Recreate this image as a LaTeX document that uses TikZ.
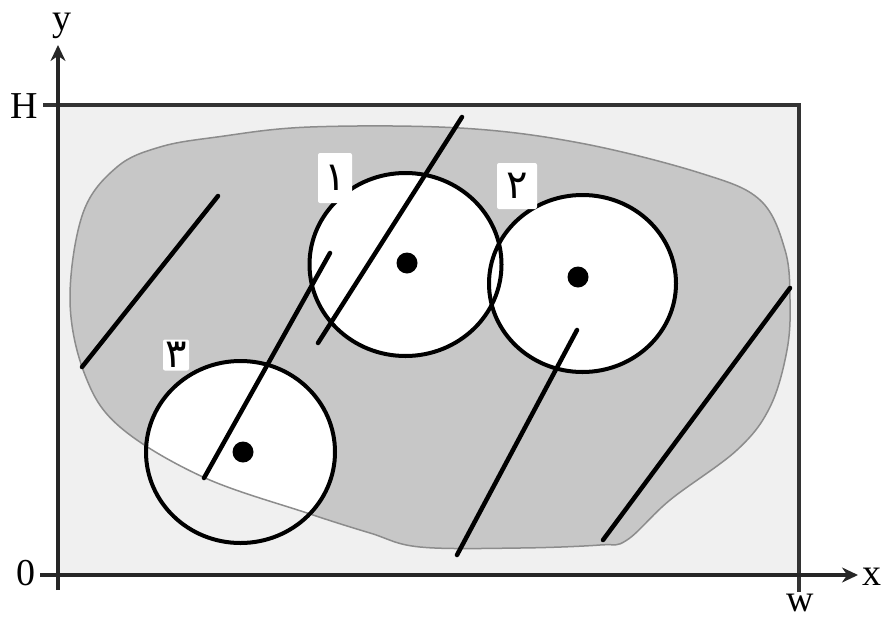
\documentclass[tikz,border=0pt]{standalone}
\usepackage{fontspec}
\setmainfont{Liberation Serif}
\newfontfamily\arabicfont[Script=Arabic]{DejaVu Sans}
\usetikzlibrary{arrows.meta}
\begin{document}
\begin{tikzpicture}[x=1pt,y=-1pt,
  axis/.style={line width=3.5pt,draw=black!85},
  frame/.style={line width=3.5pt,draw=black!80},
  ring/.style={line width=4pt,draw=black},
  stroke/.style={line width=4.5pt,draw=black,line cap=round},
  dot/.style={circle,fill=black,inner sep=0pt,minimum size=21pt},
  lbl/.style={font=\fontsize{38}{40}\selectfont,inner sep=0pt,anchor=base},
  num/.style={font=\arabicfont\fontsize{40}{42}\selectfont,fill=white,inner sep=0pt,rounded corners=2pt}]
\useasboundingbox (0,0) rectangle (888,621);
% background inside frame
\fill[black!6] (58,105) rectangle (799,575);
% blob
\def\blobpath{plot[smooth cycle,tension=0.6] coordinates {(70,300) (83,213) (117,167) (160,147) (217,137) (310,127) (460,128) (580,143) (700,173) (760,200) (785,250) (790,300) (787,350) (770,407) (737,450) (670,500) (627,540) (600,545) (520,548) (420,547) (370,533) (307,513) (203,477) (120,427) (85,375)}}
\fill[black!22] \blobpath;
% circle interiors
\fill[white] (405.5,264.5) ellipse [x radius=96pt, y radius=91.5pt];
\fill[white] (582.5,283.5) ellipse [x radius=93.5pt, y radius=88.5pt];
\begin{scope}
  \clip \blobpath;
  \fill[white] (240.5,452) ellipse [x radius=94.5pt, y radius=91pt];
\end{scope}
\draw[draw=black!45,line width=1.5pt] \blobpath;
% lines
\coordinate (a1) at (82,367); \coordinate (a2) at (218,196);
\coordinate (b1) at (318,343); \coordinate (b2) at (462,117);
\coordinate (c1) at (204,478); \coordinate (c2) at (330,253);
\coordinate (d1) at (457,555); \coordinate (d2) at (577,330);
\coordinate (e1) at (603,540); \coordinate (e2) at (790,288);
\draw[stroke] (a1) -- (a2);
\draw[stroke] (b1) -- (b2);
\draw[stroke] (c1) -- (c2);
\draw[stroke] (d1) -- (d2);
\draw[stroke] (e1) -- (e2);
% circles
\draw[ring] (405.5,264.5) ellipse [x radius=96pt, y radius=91.5pt];
\draw[ring] (582.5,283.5) ellipse [x radius=93.5pt, y radius=88.5pt];
\draw[ring] (240.5,452) ellipse [x radius=94.5pt, y radius=91pt];
\node[dot] (p1) at (407,263) {};
\node[dot] (p2) at (578,277) {};
\node[dot] (p3) at (243,452) {};
% number labels
\node[num,minimum width=34pt,minimum height=50pt] (n1) at (335,178) {\char"0661};
\node[num,minimum width=40pt,minimum height=46pt] (n2) at (517,186) {\char"0662};
\node[num,minimum width=26pt,minimum height=31pt] (n3) at (176,355) {\char"0663};
% frame and axes
\draw[frame] (43,105) -- (799,105) -- (799,592);
\draw[axis,-{Stealth[length=16pt,width=15pt]}] (58,590) -- (58,45);
\draw[axis,-{Stealth[length=16pt,width=15pt]}] (40,575) -- (858,575);
% axis labels
\node[lbl] (ly) at (62,30) {y};
\node[lbl] (lH) at (24.5,118) {H};
\node[lbl] (l0) at (26,585) {0};
\node[lbl] (lx) at (872,585) {x};
\node[lbl] (lw) at (800,611) {w};
\end{tikzpicture}
\end{document}
